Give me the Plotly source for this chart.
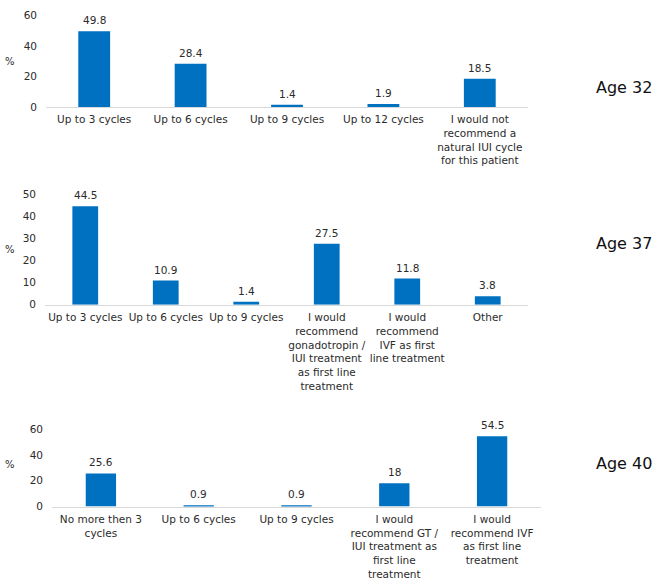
import plotly.graph_objects as go

# ---- data ----
cats_32 = ["Up to 3 cycles", "Up to 6 cycles", "Up to 9 cycles", "Up to 12 cycles",
           "I would not<br>recommend a<br>natural IUI cycle<br>for this patient"]
vals_32 = [49.8, 28.4, 1.4, 1.9, 18.5]

cats_37 = ["Up to 3 cycles", "Up to 6 cycles", "Up to 9 cycles",
           "I would<br>recommend<br>gonadotropin /<br>IUI treatment<br>as first line<br>treatment",
           "I would<br>recommend<br>IVF as first<br>line treatment", "Other"]
vals_37 = [44.5, 10.9, 1.4, 27.5, 11.8, 3.8]

cats_40 = ["No more then 3<br>cycles", "Up to 6 cycles", "Up to 9 cycles",
           "I would<br>recommend GT /<br>IUI treatment as<br>first line<br>treatment",
           "I would<br>recommend IVF<br>as first line<br>treatment"]
vals_40 = [25.6, 0.9, 0.9, 18, 54.5]

ages = ["Age 32", "Age 37", "Age 40"]
y_max = [60, 50, 60]

BLUE = "#0070C0"
TXT = "#2b2b2b"
FONT = "DejaVu Sans"

W, H = 660, 585
def py(px):
    return 1 - px / H
def px_(x):
    return x / W

fig = go.Figure()
panels = [
    (cats_32, vals_32, (46, 528), (10, 103), 0.67),
    (cats_37, vals_37, (45, 528), (192, 305), 0.68),
    (cats_40, vals_40, (52, 541), (432, 511), 0.69),
]
age_y = [83, 242, 467]
pct_y = [57, 249, 468]

layout = dict(width=W, height=H, margin=dict(l=0, r=0, t=0, b=0),
              paper_bgcolor="white", plot_bgcolor="white", showlegend=False,
              font=dict(family=FONT, size=10.5, color=TXT))
annotations = []
for i, (cats, vals, (x0, x1), (yt, yb), gap) in enumerate(panels):
    n = "" if i == 0 else str(i + 1)
    fig.add_trace(go.Bar(
        x=cats, y=vals, marker=dict(color=BLUE, line=dict(width=0)),
        cliponaxis=False, width=1 - gap,
        xaxis="x" + n, yaxis="y" + n, hoverinfo="skip"))
    for c, v in zip(cats, vals):
        annotations.append(dict(text=f"{v:g}", x=c, y=v, xref="x" + n, yref="y" + n,
                                showarrow=False, xanchor="center", yanchor="bottom",
                                yshift=3, font=dict(family=FONT, size=10.5, color=TXT)))
    layout["xaxis" + n] = dict(
        domain=[px_(x0), px_(x1)], anchor="y" + n, type="category",
        showline=True, linecolor="#D9D9D9", linewidth=1, showgrid=False,
        tickangle=0, ticks="outside", ticklen=3, tickcolor="rgba(0,0,0,0)",
        tickfont=dict(family=FONT, size=10.5, color=TXT),
        zeroline=False, fixedrange=True)
    layout["yaxis" + n] = dict(
        domain=[py(yb), py(yt)], anchor="x" + n, range=[0, y_max[i]],
        dtick=10 if y_max[i] == 50 else 20, showgrid=False, showline=False,
        zeroline=False, ticks="", ticklabelstandoff=8,
        tickfont=dict(family=FONT, size=10.5, color=TXT), fixedrange=True)
    annotations.append(dict(text=ages[i], x=px_(624), y=py(age_y[i]), xref="paper",
                            yref="paper", showarrow=False, xanchor="center",
                            yanchor="middle", font=dict(family=FONT, size=16, color="#111111")))
    annotations.append(dict(text="%", x=px_(10), y=py(pct_y[i]), xref="paper",
                            yref="paper", showarrow=False, xanchor="center",
                            yanchor="middle", font=dict(family=FONT, size=10, color=TXT)))
layout["annotations"] = annotations
fig.update_layout(**layout)
fig.write_html("out.html")
